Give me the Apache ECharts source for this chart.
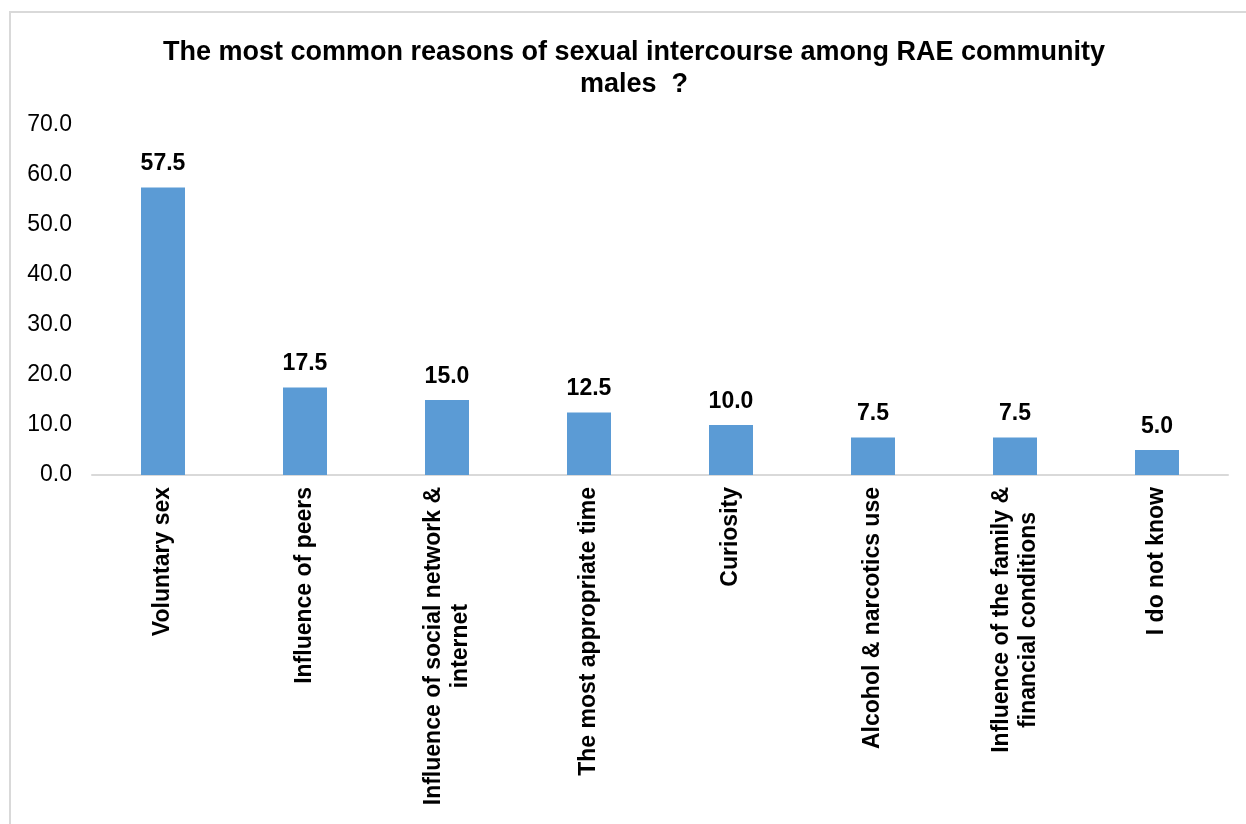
<!DOCTYPE html>
<html>
<head>
<meta charset="utf-8">
<script src="https://cdn.jsdelivr.net/npm/echarts@6/dist/echarts.min.js"></script>
<style>
  html, body { margin: 0; padding: 0; background: #ffffff; }
  #chart { width: 1246px; height: 824px; }
</style>
</head>
<body>
<div id="chart"></div>
<script>
// Reasons reported, in chart order
const categories = [
  'Voluntary sex',
  'Influence of peers',
  'Influence of social network &\ninternet',
  'The most appropriate time',
  'Curiosity',
  'Alcohol & narcotics use',
  'Influence of the family &\nfinancial conditions',
  'I do not know'
];
// Share of respondents (%)
const values = [57.5, 17.5, 15.0, 12.5, 10.0, 7.5, 7.5, 5.0];
// Value axis range
const yMin = 0;
const yMax = 70;
const yStep = 10;

const FONT = '"Liberation Sans", Arial, sans-serif';

const chart = echarts.init(document.getElementById('chart'), null, { renderer: 'canvas' });

chart.setOption({
  backgroundColor: '#ffffff',
  animation: false,
  graphic: [{
    type: 'rect',
    shape: { x: 10, y: 12, width: 1260, height: 840 },
    style: { fill: 'none', stroke: '#d9d9d9', lineWidth: 2 },
    silent: true,
    z: -1
  }],
  title: {
    text: 'The most common reasons of sexual intercourse among RAE community\nmales  ?',
    left: 629,
    textAlign: 'center',
    top: 32,
    textStyle: {
      fontFamily: FONT,
      fontWeight: 'bold',
      fontSize: 27,
      lineHeight: 32,
      color: '#000000'
    }
  },
  grid: {
    left: 92,
    right: 18,
    top: 125,
    bottom: 349,
    containLabel: false
  },
  xAxis: {
    type: 'category',
    data: categories,
    axisLine: { show: true, lineStyle: { color: '#d9d9d9', width: 2 } },
    axisTick: { show: false },
    axisLabel: {
      interval: 0,
      rotate: 90,
      margin: 12,
      fontFamily: FONT,
      fontWeight: 'bold',
      fontSize: 23,
      lineHeight: 27,
      color: '#000000',
      formatter: function (v) {
        return v.split('\n').map(function (s) { return '{c|' + s + '}'; }).join('\n');
      },
      rich: {
        c: {
          fontFamily: FONT,
          fontWeight: 'bold',
          fontSize: 23,
          lineHeight: 27,
          color: '#000000',
          align: 'center'
        }
      }
    }
  },
  yAxis: {
    type: 'value',
    min: yMin,
    max: yMax,
    interval: yStep,
    axisLine: { show: false },
    axisTick: { show: false },
    splitLine: { show: false },
    axisLabel: {
      margin: 20,
      fontFamily: FONT,
      fontSize: 23,
      color: '#000000',
      formatter: function (v) { return v.toFixed(1); }
    }
  },
  series: [{
    type: 'bar',
    data: values,
    barWidth: 44,
    itemStyle: { color: '#5b9bd5' },
    label: {
      show: true,
      position: 'top',
      distance: 12,
      fontFamily: FONT,
      fontWeight: 'bold',
      fontSize: 23,
      color: '#000000',
      formatter: function (p) { return p.value.toFixed(1); }
    }
  }]
});
</script>
</body>
</html>
